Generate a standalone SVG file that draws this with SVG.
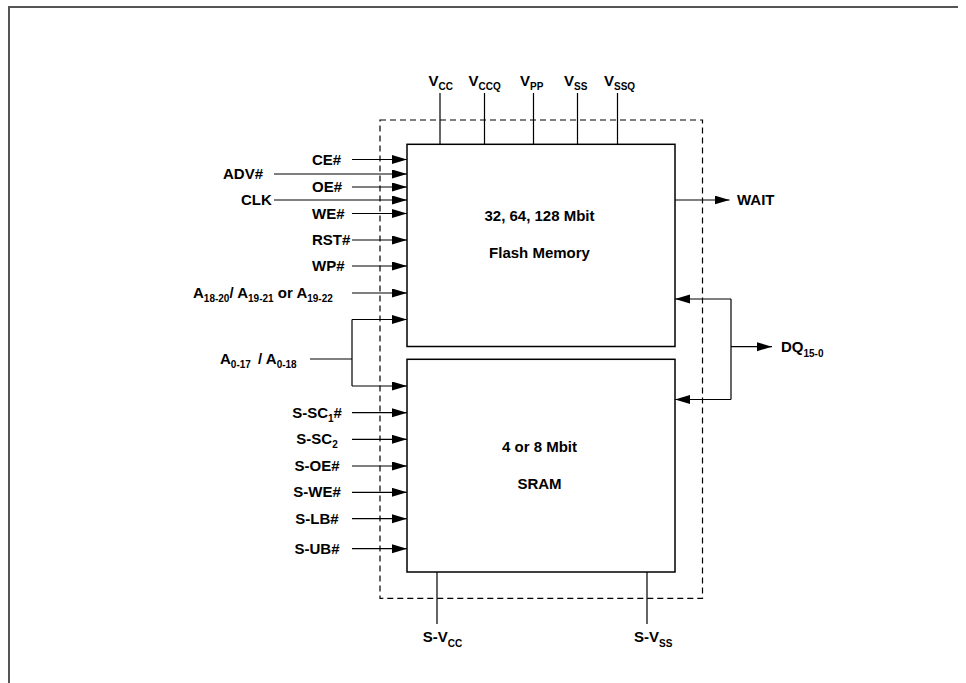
<svg xmlns="http://www.w3.org/2000/svg" width="966" height="683" viewBox="0 0 966 683">
<style>
.t{font-family:"Liberation Sans",Arial,sans-serif;font-weight:bold;font-size:15px;fill:#000}
.s{font-size:10px}
.c{text-anchor:middle}
.ln{stroke:#000;stroke-width:1.2;fill:none}
.ar{stroke:#000;stroke-width:1.2;fill:none;marker-end:url(#ah)}
.box{fill:#fff;stroke:#000;stroke-width:1.5}
</style>
<defs>
<marker id="ah" markerUnits="userSpaceOnUse" markerWidth="16" markerHeight="10" refX="15" refY="4.5" orient="auto">
<path d="M0,0 L15,4.5 L0,9 z" fill="#000"/>
</marker>
</defs>
<rect width="966" height="683" fill="#fff"/>
<g id="frame">
<path d="M9,683 V7 H958" stroke="#555" stroke-width="2" fill="none"/>
</g>
<g id="module">
<rect x="380" y="120" width="322.5" height="478.3" fill="none" stroke="#000" stroke-width="1.2" stroke-dasharray="6,4"/>
</g>
<g id="connectors">
<path class="ln" d="M440,93 V144 M484.5,93 V144 M533.5,93 V144 M577.5,93 V144 M617.5,93 V144"/>
<path class="ln" d="M437,572 V624 M647,572 V624"/>
<path class="ar" d="M352,159.5 H407"/>
<path class="ar" d="M274,174 H407"/>
<path class="ar" d="M352,187 H407"/>
<path class="ar" d="M274,200 H407"/>
<path class="ar" d="M352,213.5 H407"/>
<path class="ar" d="M352,240 H407"/>
<path class="ar" d="M352,266 H407"/>
<path class="ar" d="M352,293 H407"/>
<path class="ln" d="M310,359 H352 M352,319.5 V386"/>
<path class="ar" d="M352,319.5 H407"/>
<path class="ar" d="M352,386 H407"/>
<path class="ar" d="M352,412.7 H407"/>
<path class="ar" d="M352,439.3 H407"/>
<path class="ar" d="M352,466 H407"/>
<path class="ar" d="M352,492.3 H407"/>
<path class="ar" d="M352,518.7 H407"/>
<path class="ar" d="M352,548.7 H407"/>
<path class="ar" d="M675,200 H729.5"/>
<path class="ar" d="M731,299 H675"/>
<path class="ar" d="M731,399.5 H675"/>
<path class="ln" d="M731,299 V399.5"/>
<path class="ar" d="M731,346.7 H772"/>
</g>
<g id="flash">
<rect class="box" x="407" y="144.3" width="268" height="202.2"/>
<text class="t c" x="539.5" y="220.5">32, 64, 128 Mbit</text>
<text class="t c" x="539.5" y="257.5">Flash Memory</text>
</g>
<g id="sram">
<rect class="box" x="407" y="359.3" width="268" height="212.7"/>
<text class="t c" x="539.5" y="452">4 or 8 Mbit</text>
<text class="t c" x="539.5" y="489">SRAM</text>
</g>
<g id="power-pins">
<text class="t" x="428.5" y="86">V<tspan class="s" dy="4">CC</tspan></text>
<text class="t" x="468.5" y="86">V<tspan class="s" dy="4">CCQ</tspan></text>
<text class="t" x="520" y="86">V<tspan class="s" dy="4">PP</tspan></text>
<text class="t" x="564" y="86">V<tspan class="s" dy="4">SS</tspan></text>
<text class="t" x="604" y="86">V<tspan class="s" dy="4">SSQ</tspan></text>
<text class="t" x="422.7" y="641.5">S-V<tspan class="s" dy="5">CC</tspan></text>
<text class="t" x="634" y="641.5">S-V<tspan class="s" dy="5">SS</tspan></text>
</g>
<g id="flash-inputs">
<text class="t" x="312" y="164.5">CE#</text>
<text class="t" x="223" y="179">ADV#</text>
<text class="t" x="312" y="192">OE#</text>
<text class="t" x="241" y="205">CLK</text>
<text class="t" x="312" y="218.5">WE#</text>
<text class="t" x="312" y="245">RST#</text>
<text class="t" x="312" y="271">WP#</text>
<text class="t" x="193" y="297.5">A<tspan class="s" dy="4">18-20</tspan><tspan dy="-4">/ A</tspan><tspan class="s" dy="4">19-21</tspan><tspan dy="-4"> or A</tspan><tspan class="s" dy="4">19-22</tspan></text>
<text class="t" x="220" y="364">A<tspan class="s" dy="4">0-17</tspan><tspan x="258" dy="-4">/ A</tspan><tspan class="s" dy="4">0-18</tspan></text>
</g>
<g id="sram-inputs">
<text class="t c" x="317" y="417.7">S-SC<tspan class="s" dy="4">1</tspan><tspan dy="-4">#</tspan></text>
<text class="t c" x="317" y="444.3">S-SC<tspan class="s" dy="4">2</tspan></text>
<text class="t c" x="317" y="471">S-OE#</text>
<text class="t c" x="317" y="497.3">S-WE#</text>
<text class="t c" x="317" y="523.7">S-LB#</text>
<text class="t c" x="317" y="553.7">S-UB#</text>
</g>
<g id="outputs">
<text class="t" x="737" y="205">WAIT</text>
<text class="t" x="781" y="351.7">DQ<tspan class="s" dy="5">15-0</tspan></text>
</g>
</svg>
